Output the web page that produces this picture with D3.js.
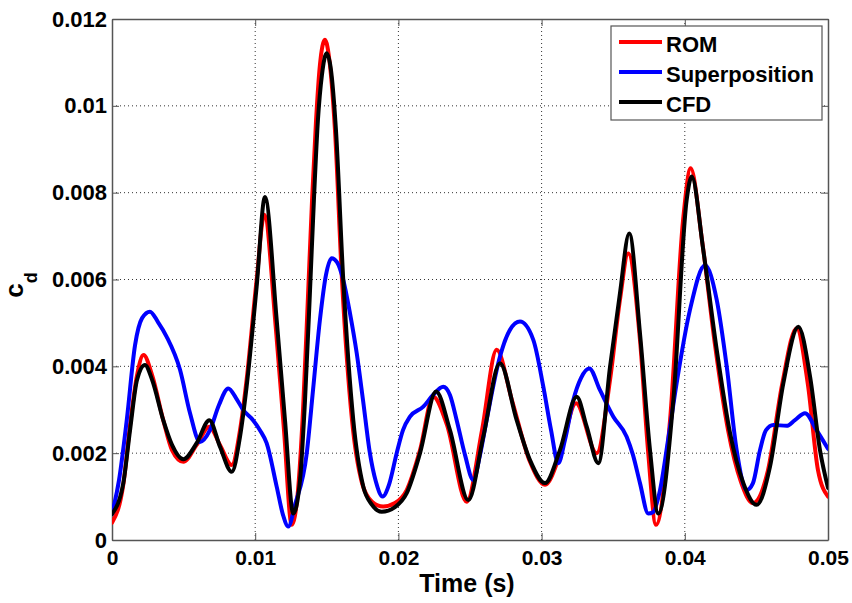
<!DOCTYPE html>
<html>
<head>
<meta charset="utf-8">
<script src="https://cdn.jsdelivr.net/npm/d3@7"></script>
<style>
  html, body { margin: 0; padding: 0; background: #fff; }
  svg { display: block; }
  text { font-family: "Liberation Sans", Arial, sans-serif; font-weight: bold; fill: #000; }
</style>
</head>
<body>
<svg id="chart" width="852" height="603"></svg>
<script>
// ---- data ----
const xTicks = [0, 0.01, 0.02, 0.03, 0.04, 0.05];
const xTickLabels = ["0", "0.01", "0.02", "0.03", "0.04", "0.05"];
const yTicks = [0, 0.002, 0.004, 0.006, 0.008, 0.01, 0.012];
const yTickLabels = ["0", "0.002", "0.004", "0.006", "0.008", "0.01", "0.012"];
const seriesNames = ["ROM", "Superposition", "CFD"];
const seriesColors = ["#ff0000", "#0000ff", "#000000"];

const romT = [0, 0.0008, 0.00126, 0.00175, 0.0022, 0.0028, 0.00358, 0.00419, 0.00498, 0.00591, 0.0068, 0.00754, 0.00836, 0.00894, 0.0094, 0.0101, 0.01063, 0.01145, 0.01201, 0.01255, 0.01299, 0.01334, 0.01369, 0.01397, 0.01425, 0.01452, 0.01487, 0.01522, 0.01557, 0.01606, 0.01676, 0.01746, 0.01816, 0.01894, 0.01976, 0.02058, 0.02151, 0.02243, 0.02339, 0.02477, 0.02584, 0.02686, 0.02793, 0.02919, 0.03024, 0.03128, 0.0324, 0.03385, 0.03478, 0.03547, 0.03605, 0.03687, 0.03743, 0.03799, 0.03897, 0.03988, 0.04041, 0.0412, 0.04211, 0.04302, 0.04392, 0.04476, 0.04581, 0.04679, 0.04781, 0.0486, 0.0493, 0.05];
const romV = [0.0004, 0.0013, 0.00265, 0.0038, 0.00426, 0.0038, 0.00276, 0.00207, 0.0018, 0.00219, 0.00261, 0.00219, 0.00173, 0.00253, 0.00369, 0.00599, 0.00749, 0.00484, 0.00253, 0.00035, 0.00115, 0.00299, 0.00564, 0.00783, 0.00967, 0.01094, 0.01152, 0.01094, 0.00944, 0.00599, 0.00276, 0.00131, 0.00088, 0.00077, 0.00085, 0.00115, 0.00207, 0.0033, 0.00265, 0.00088, 0.00253, 0.00438, 0.00322, 0.0018, 0.00127, 0.00196, 0.00315, 0.002, 0.00369, 0.00553, 0.0066, 0.00461, 0.00207, 0.00035, 0.00276, 0.00737, 0.00856, 0.00691, 0.00449, 0.00253, 0.00134, 0.00085, 0.00161, 0.00357, 0.00488, 0.00357, 0.00161, 0.001];

const supT = [0, 0.00049, 0.00103, 0.00161, 0.0021, 0.00265, 0.00321, 0.00382, 0.00475, 0.00545, 0.00614, 0.00684, 0.00747, 0.00812, 0.00866, 0.00917, 0.00985, 0.01033, 0.0108, 0.0115, 0.01194, 0.01231, 0.01278, 0.0136, 0.01404, 0.01452, 0.01494, 0.01534, 0.01571, 0.01615, 0.01662, 0.01709, 0.01753, 0.01801, 0.01843, 0.0189, 0.01934, 0.01988, 0.02032, 0.02081, 0.02174, 0.02242, 0.02313, 0.0236, 0.02407, 0.02465, 0.02523, 0.0257, 0.02616, 0.02709, 0.02779, 0.02849, 0.02942, 0.03012, 0.03066, 0.03116, 0.03163, 0.03221, 0.03275, 0.03333, 0.03408, 0.03501, 0.03594, 0.03638, 0.03687, 0.03745, 0.03778, 0.03827, 0.03883, 0.03943, 0.04036, 0.04141, 0.04223, 0.04293, 0.04362, 0.04432, 0.04476, 0.04525, 0.04567, 0.04618, 0.04711, 0.04769, 0.04839, 0.0492, 0.05];
const supV = [0.0006, 0.00138, 0.00276, 0.00449, 0.00511, 0.00526, 0.00502, 0.00468, 0.00392, 0.00292, 0.00226, 0.00253, 0.00311, 0.00349, 0.00327, 0.00299, 0.00276, 0.00253, 0.00223, 0.00123, 0.00058, 0.00031, 0.00081, 0.002, 0.00346, 0.00507, 0.0061, 0.00649, 0.0064, 0.00599, 0.00522, 0.0043, 0.00322, 0.002, 0.00134, 0.001, 0.00127, 0.002, 0.00253, 0.00284, 0.00307, 0.00334, 0.00353, 0.00334, 0.00276, 0.00196, 0.00138, 0.00196, 0.00276, 0.00422, 0.00484, 0.00503, 0.00461, 0.00353, 0.00253, 0.00177, 0.0023, 0.00322, 0.00373, 0.00395, 0.00345, 0.00284, 0.00238, 0.00196, 0.00131, 0.00061, 0.00064, 0.00115, 0.0023, 0.00361, 0.0053, 0.00633, 0.00553, 0.00399, 0.00207, 0.00115, 0.00131, 0.00207, 0.00253, 0.00265, 0.00263, 0.00276, 0.00292, 0.00253, 0.0021];

const cfdT = [0, 0.00079, 0.00126, 0.00175, 0.0023, 0.0028, 0.00358, 0.00419, 0.00498, 0.00591, 0.0068, 0.00754, 0.00836, 0.00894, 0.0094, 0.0101, 0.01068, 0.0115, 0.01208, 0.01266, 0.01313, 0.01348, 0.01383, 0.0141, 0.01438, 0.01466, 0.01499, 0.01529, 0.01564, 0.01615, 0.01685, 0.01755, 0.01816, 0.01883, 0.01976, 0.02058, 0.02151, 0.02263, 0.0236, 0.02488, 0.02593, 0.02709, 0.02826, 0.02919, 0.03024, 0.03128, 0.03245, 0.03315, 0.03396, 0.03478, 0.03547, 0.03612, 0.03687, 0.03757, 0.03815, 0.0392, 0.04013, 0.04048, 0.04129, 0.04223, 0.04316, 0.04409, 0.04502, 0.04595, 0.04688, 0.04793, 0.04875, 0.04944, 0.05];
const cfdV = [0.0006, 0.00131, 0.00253, 0.00369, 0.00403, 0.00369, 0.00276, 0.00219, 0.00186, 0.00223, 0.00276, 0.00215, 0.00157, 0.00238, 0.00353, 0.00583, 0.0079, 0.00507, 0.00276, 0.00061, 0.00138, 0.00322, 0.00576, 0.00783, 0.00967, 0.01071, 0.01121, 0.01083, 0.00944, 0.00599, 0.00276, 0.00123, 0.00081, 0.00065, 0.00076, 0.00108, 0.002, 0.00342, 0.00253, 0.00092, 0.00238, 0.00407, 0.00276, 0.00184, 0.00131, 0.00207, 0.0033, 0.00261, 0.00177, 0.00399, 0.00568, 0.00706, 0.00476, 0.00207, 0.00061, 0.00322, 0.00783, 0.00837, 0.00668, 0.00438, 0.00246, 0.00131, 0.00081, 0.00169, 0.00361, 0.00491, 0.00376, 0.00207, 0.0012];

// ---- layout ----
const L = 112, R = 828, T = 19, B = 540;
const svg = d3.select("#chart");

const x = d3.scaleLinear().domain([0, 0.05]).range([L, R]);
const y = d3.scaleLinear().domain([0, 0.012]).range([B, T]);

// grid (dotted)
const grid = svg.append("g");
grid.selectAll("line.vx").data(xTicks.slice(1, -1)).enter().append("line")
  .attr("x1", d => x(d)).attr("x2", d => x(d)).attr("y1", T).attr("y2", B)
  .attr("stroke", "#333").attr("stroke-width", 1).attr("stroke-dasharray", "1,3");
grid.selectAll("line.hy").data(yTicks.slice(1, -1)).enter().append("line")
  .attr("x1", L).attr("x2", R).attr("y1", d => y(d)).attr("y2", d => y(d))
  .attr("stroke", "#333").attr("stroke-width", 1).attr("stroke-dasharray", "1,3");

// axes with inward ticks
const fmtX = (d, i) => xTickLabels[i];
const fmtY = (d, i) => yTickLabels[i];
const axB = svg.append("g").attr("transform", `translate(0,${B})`)
  .call(d3.axisBottom(x).tickValues(xTicks).tickFormat(fmtX).tickSizeInner(-7).tickSizeOuter(0).tickPadding(10));
const axL = svg.append("g").attr("transform", `translate(${L},0)`)
  .call(d3.axisLeft(y).tickValues(yTicks).tickFormat(fmtY).tickSizeInner(-7).tickSizeOuter(0).tickPadding(5));
const axT = svg.append("g").attr("transform", `translate(0,${T})`)
  .call(d3.axisTop(x).tickValues(xTicks).tickFormat("").tickSizeInner(-7).tickSizeOuter(0));
const axR = svg.append("g").attr("transform", `translate(${R},0)`)
  .call(d3.axisRight(y).tickValues(yTicks).tickFormat("").tickSizeInner(-7).tickSizeOuter(0));
[axB, axL, axT, axR].forEach(g => {
  g.selectAll("path.domain").attr("stroke", "#555").attr("stroke-width", 1.5);
  g.selectAll(".tick line").attr("stroke", "#555").attr("stroke-width", 1);
});
axB.selectAll(".tick text").style("font-size", "21px").style("font-weight", "bold")
  .style("font-family", "'Liberation Sans', Arial, sans-serif").attr("fill", "#000");
axL.selectAll(".tick text").style("font-size", "22px").style("font-weight", "bold")
  .style("font-family", "'Liberation Sans', Arial, sans-serif").attr("fill", "#000");

// lines
svg.append("clipPath").attr("id", "plotclip").append("rect")
  .attr("x", L).attr("y", T).attr("width", R - L).attr("height", B - T);
const line = d3.line().x(d => x(d[0])).y(d => y(d[1])).curve(d3.curveMonotoneX);
const series = [
  d3.zip(romT, romV),
  d3.zip(supT, supV),
  d3.zip(cfdT, cfdV)
];
const plot = svg.append("g").attr("clip-path", "url(#plotclip)");
series.forEach((s, i) => {
  plot.append("path").datum(s).attr("d", line)
    .attr("fill", "none").attr("stroke", seriesColors[i])
    .attr("stroke-width", 4).attr("stroke-linejoin", "round").attr("stroke-linecap", "round");
});

// axis titles
svg.append("text").attr("x", 467).attr("y", 592).attr("text-anchor", "middle")
  .style("font-size", "25px").text("Time (s)");
const yt = svg.append("text").attr("transform", "translate(23,285) rotate(-90)")
  .attr("text-anchor", "middle").style("font-size", "26px");
yt.append("tspan").text("c");
yt.append("tspan").attr("dy", 14).style("font-size", "18px").text("d");

// legend
const lg = svg.append("g");
lg.append("rect").attr("x", 611).attr("y", 26).attr("width", 211).attr("height", 94)
  .attr("fill", "#fff").attr("stroke", "#555").attr("stroke-width", 1.2);
seriesNames.forEach((n, i) => {
  const yy = 42 + i * 30;
  lg.append("line").attr("x1", 619).attr("x2", 662).attr("y1", yy).attr("y2", yy)
    .attr("stroke", seriesColors[i]).attr("stroke-width", 4);
  lg.append("text").attr("x", 666).attr("y", yy + 10).style("font-size", "22px").text(n);
});
</script>
</body>
</html>
